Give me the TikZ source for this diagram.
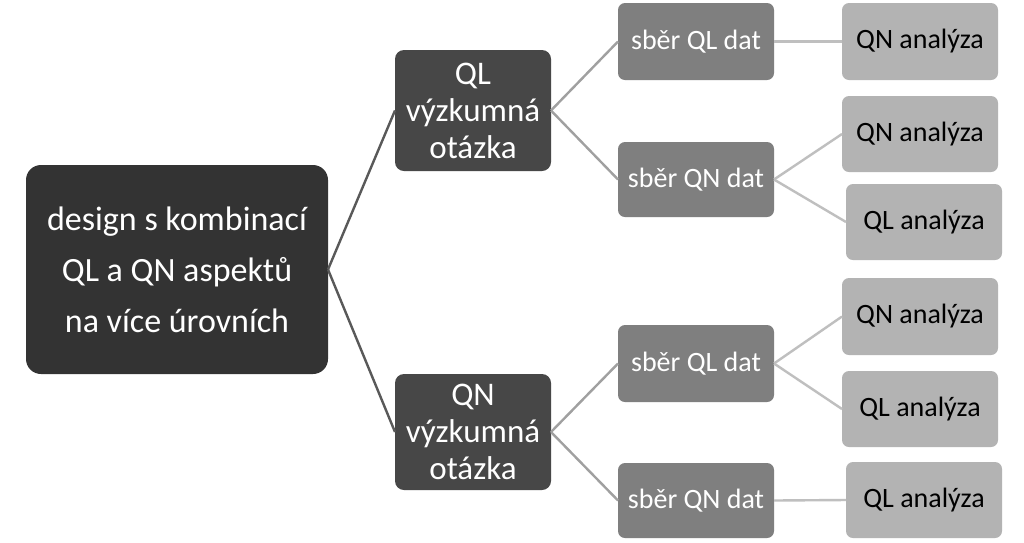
\documentclass[tikz,border=0pt]{standalone}
\usepackage{fontspec}
\setmainfont{Carlito}
\definecolor{rootc}{HTML}{333333}
\definecolor{qc}{HTML}{474747}
\definecolor{dc}{HTML}{7F7F7F}
\definecolor{lc}{HTML}{B3B3B3}
\definecolor{e1}{HTML}{595959}
\definecolor{e2}{HTML}{A0A0A0}
\definecolor{e3}{HTML}{BFBFBF}
\tikzset{
  box/.style={rectangle, inner sep=0pt, outer sep=0pt, align=center, minimum width=156pt},
  rootbox/.style={box, fill=rootc, text=white, rounded corners=15pt, minimum width=302pt, minimum height=209pt, font=\fontsize{34}{51}\selectfont},
  qbox/.style={box, fill=qc, text=white, rounded corners=9pt, font=\fontsize{33}{37}\selectfont},
  dbox/.style={box, fill=dc, text=white, rounded corners=7pt, font=\fontsize{28}{32}\selectfont},
  lbox/.style={box, fill=lc, text=black, rounded corners=7pt, font=\fontsize{28}{32}\selectfont},
  edgeA/.style={draw=e1, line width=2.4pt},
  edgeB/.style={draw=e2, line width=2.4pt},
  edgeC/.style={draw=e3, line width=2.4pt}
}
\begin{document}
\begin{tikzpicture}[x=1pt,y=-1pt]
\useasboundingbox (0,0) rectangle (1024,542);
\fill[white] (0,0) rectangle (1024,542);
\node[rootbox] (root) at (177,269.5) {design s kombinací\\QL a QN aspektů\\ na více úrovních};
\node[qbox, minimum height=121pt] (qlq) at (473,110.5) {QL\\výzkumná\\otázka};
\node[qbox, minimum height=116pt] (qnq) at (473,432) {QN\\výzkumná\\otázka};
\node[dbox, minimum height=77pt] (d1) at (696,41.5) {sběr QL dat};
\node[dbox, minimum height=75pt] (d2) at (696,179.5) {sběr QN dat};
\node[dbox, minimum height=77pt] (d3) at (696,363.5) {sběr QL dat};
\node[dbox, minimum height=75pt] (d4) at (696,500.5) {sběr QN dat};
\node[lbox, minimum height=77pt] (l1) at (920,41.5) {QN analýza};
\node[lbox, minimum height=76pt] (l2) at (920,134) {QN analýza};
\node[lbox, minimum height=76pt] (l3) at (924,222) {QL analýza};
\node[lbox, minimum height=77pt] (l4) at (920,316.5) {QN analýza};
\node[lbox, minimum height=76pt] (l5) at (920,409) {QL analýza};
\node[lbox, minimum height=76pt] (l6) at (924,500) {QL analýza};
\draw[edgeA] (root.east) -- (qlq.west);
\draw[edgeA] (root.east) -- (qnq.west);
\draw[edgeB] (qlq.east) -- (d1.west);
\draw[edgeB] (qlq.east) -- (d2.west);
\draw[edgeB] (qnq.east) -- (d3.west);
\draw[edgeB] (qnq.east) -- (d4.west);
\draw[edgeC] (d1.east) -- (l1.west);
\draw[edgeC] (d2.east) -- (l2.west);
\draw[edgeC] (d2.east) -- (l3.west);
\draw[edgeC] (d3.east) -- (l4.west);
\draw[edgeC] (d3.east) -- (l5.west);
\draw[edgeC] (d4.east) -- (l6.west);
\end{tikzpicture}
\end{document}
